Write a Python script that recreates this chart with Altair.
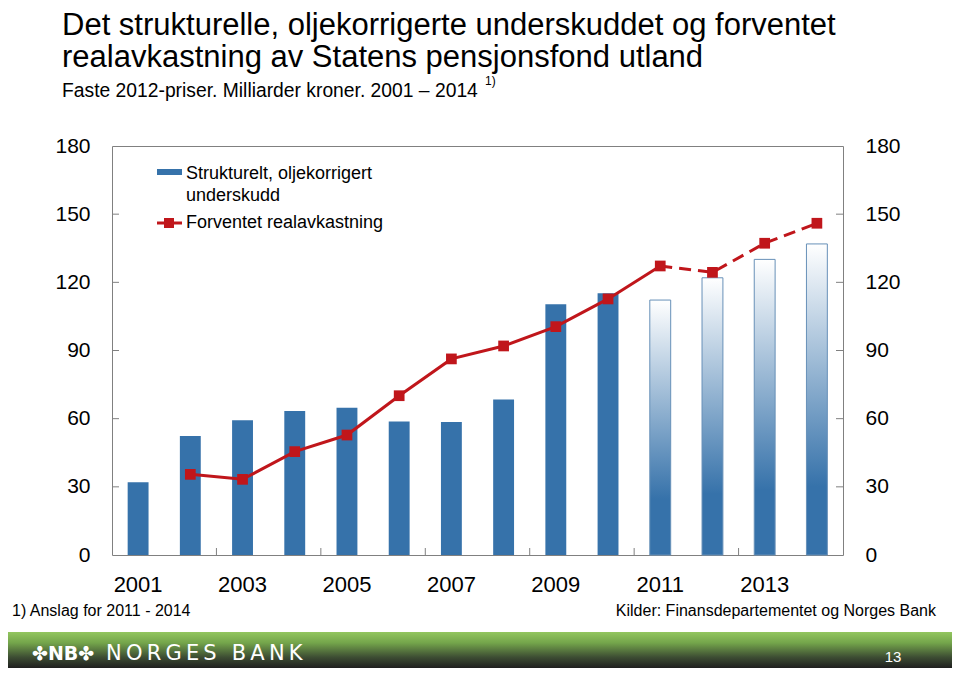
import altair as alt
import pandas as pd

# ---------------- data ----------------
years = list(range(2001, 2015))
deficit = [32.0, 52.4, 59.3, 63.4, 64.8, 58.8, 58.5, 68.4, 110.3, 115.2, 112.2, 122.0, 130.1, 136.9]
expected = [None, 35.5, 33.3, 45.5, 52.8, 70.1, 86.3, 92.0, 100.5, 112.7, 127.2, 124.4, 137.2, 146.0]
first_projection_year = 2011
x_label_years = [2001, 2003, 2005, 2007, 2009, 2011, 2013]
x_tick_years = [2003, 2005, 2007, 2009, 2011, 2013]
y_ticks = [0, 30, 60, 90, 120, 150, 180]
inner_y_ticks = [30, 60, 90, 120, 150]

title_lines = ["Det strukturelle, oljekorrigerte underskuddet og forventet",
               "realavkastning av Statens pensjonsfond utland"]
subtitle = "Faste 2012-priser. Milliarder kroner. 2001 \u2013 2014"
legend_bar = ["Strukturelt, oljekorrigert", "underskudd"]
legend_line = "Forventet realavkastning"
footnote = "1) Anslag for 2011 - 2014"
source = "Kilder: Finansdepartementet og Norges Bank"
page_no = "13"

# ---------------- styling ----------------
W, H = 731, 409
FONT = "Liberation Sans"
BLUE = "#3672aa"
RED = "#c0161b"
GRAY = "#808080"

df = pd.DataFrame({"year": years, "deficit": deficit, "expected": expected})

xscale = alt.Scale(domain=years, paddingInner=0.6, paddingOuter=0.3)
yscale = alt.Scale(domain=[0, 180], nice=False, zero=True)
xaxis = alt.Axis(values=x_label_years, labelAngle=0, labelFontSize=22, labelFont=FONT,
                 labelColor="black", labelPadding=19, ticks=False, domain=False,
                 grid=False, title=None)


def yaxis(orient):
    return alt.Axis(values=y_ticks, orient=orient, labelFontSize=21, labelFont=FONT,
                    labelColor="black", labelPadding=22, ticks=False, domain=False,
                    grid=False, title=None)


def X(**kw):
    return alt.X("year:O", scale=xscale, axis=xaxis, **kw)


base = alt.Chart(df)

bars_actual = base.transform_filter(
    f"datum.year < {first_projection_year}"
).mark_bar(fill=BLUE).encode(
    x=X(), y=alt.Y("deficit:Q", scale=yscale, axis=None)
)

grad = alt.Gradient(
    gradient="linear", x1=0, x2=0, y1=0, y2=1,
    stops=[alt.GradientStop(color="#ffffff", offset=0),
           alt.GradientStop(color=BLUE, offset=0.78),
           alt.GradientStop(color=BLUE, offset=1)])

bars_proj = base.transform_filter(
    f"datum.year >= {first_projection_year}"
).mark_bar(fill=grad, stroke="#6790b8", strokeWidth=1).encode(
    x=X(), y=alt.Y("deficit:Q", scale=yscale, axis=None)
)

line_solid = base.transform_filter(
    f"datum.year <= {first_projection_year} && isValid(datum.expected)"
).mark_line(color=RED, strokeWidth=3).encode(
    x=X(), y=alt.Y("expected:Q", scale=yscale, axis=None)
)

line_dash = base.transform_filter(
    f"datum.year >= {first_projection_year}"
).mark_line(color=RED, strokeWidth=3, strokeDash=[12, 7]).encode(
    x=X(), y=alt.Y("expected:Q", scale=yscale, axis=None)
)

points = base.transform_filter("isValid(datum.expected)").mark_point(
    shape="square", filled=True, size=115, color=RED, opacity=1
).encode(x=X(), y=alt.Y("expected:Q", scale=yscale, axis=None))

step = W / (len(years) - 0.6 + 2 * 0.3)
x_ticks = alt.Chart(pd.DataFrame({"year": x_tick_years})).mark_rule(
    color=GRAY, strokeWidth=1, xOffset=-0.3 * step
).encode(
    x=alt.X("year:O", bandPosition=0, scale=xscale, axis=xaxis),
    y=alt.value(H - 7), y2=alt.value(H)
)

ydf = pd.DataFrame({"v": inner_y_ticks})
y_ticks_left = alt.Chart(ydf).mark_rule(color=GRAY, strokeWidth=1).encode(
    y=alt.Y("v:Q", scale=yscale, axis=yaxis("left")),
    x=alt.value(0), x2=alt.value(7)
)
y_ticks_right = alt.Chart(ydf).mark_rule(color=GRAY, strokeWidth=1).encode(
    y=alt.Y("v:Q", scale=yscale, axis=yaxis("right")),
    x=alt.value(W - 7), x2=alt.value(W)
)


def one():
    return pd.DataFrame({"t": [""]})


def text(txt, x, y, size, align="left", baseline="alphabetic", color="black",
         font=FONT, weight="normal"):
    return alt.Chart(pd.DataFrame({"t": [txt]})).mark_text(
        align=align, baseline=baseline, fontSize=size, font=font, color=color,
        fontWeight=weight
    ).encode(text="t:N", x=alt.value(x), y=alt.value(y))


# legend
leg_rect = alt.Chart(one()).mark_rect(color=BLUE).encode(
    x=alt.value(45), x2=alt.value(70), y=alt.value(23), y2=alt.value(29))
leg_rule = alt.Chart(one()).mark_rule(color=RED, strokeWidth=3).encode(
    x=alt.value(45), x2=alt.value(70), y=alt.value(77))
leg_pt = alt.Chart(one()).mark_point(shape="square", filled=True, size=100,
                                     color=RED, opacity=1).encode(
    x=alt.value(57), y=alt.value(77))

# banner
banner_grad = alt.Gradient(
    gradient="linear", x1=0, x2=0, y1=0, y2=1,
    stops=[alt.GradientStop(color="#93c65f", offset=0),
           alt.GradientStop(color="#74a54b", offset=0.3),
           alt.GradientStop(color="#3d4d33", offset=0.7),
           alt.GradientStop(color="#1f1f1f", offset=1)])
banner = alt.Chart(one()).mark_rect(fill=banner_grad).encode(
    x=alt.value(-104), x2=alt.value(840), y=alt.value(486), y2=alt.value(522))

ns = "\u2009"
bank_name = ns.join(list("NORGES")) + " \u2009\u2009" + ns.join(list("BANK"))

layers = [
    bars_actual, bars_proj, line_solid, line_dash, points,
    x_ticks, y_ticks_left, y_ticks_right,
    text(title_lines[0], -50, -111, 31),
    text(title_lines[1], -50, -79, 31),
    text(subtitle, -50, -49, 19.3),
    text("1)", 373, -61, 12),
    leg_rect, leg_rule, leg_pt,
    text(legend_bar[0], 74, 28, 18, baseline="middle"),
    text(legend_bar[1], 74, 50, 18, baseline="middle"),
    text(legend_line, 74, 77, 18, baseline="middle"),
    text(footnote, -100, 470, 16),
    text(source, 824, 470, 16, align="right"),
    banner,
    text("\u2724NB\u2724", -80, 514, 19, color="white", font="DejaVu Sans", weight="bold"),
    text(bank_name, -6, 514, 21, color="white", font="DejaVu Sans"),
    text(page_no, 781, 516, 15, align="center", color="white"),
]

chart = alt.layer(*layers).resolve_axis(y="independent").properties(
    width=W, height=H,
    padding={"left": 104, "top": 138, "right": 109, "bottom": 113},
    autosize=alt.AutoSizeParams(type="none"),
    background="white",
).configure_view(stroke=GRAY, strokeWidth=1)

chart.save("out.html", embed_options={"renderer": "svg", "actions": False})
